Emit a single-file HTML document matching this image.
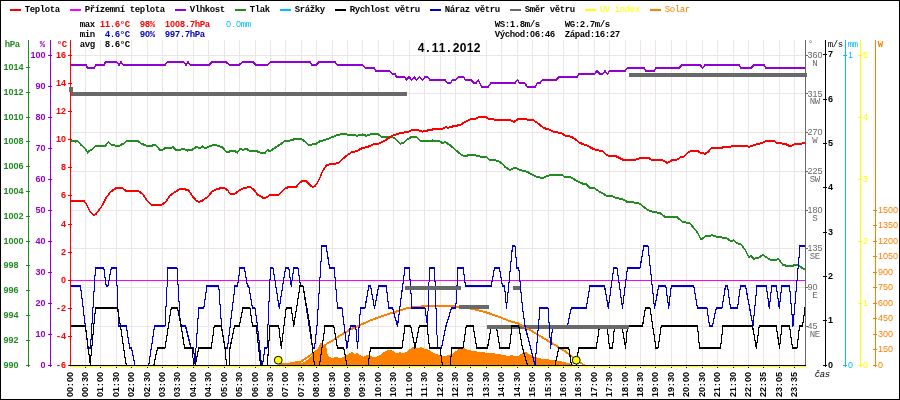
<!DOCTYPE html>
<html lang="cs"><head><meta charset="utf-8"><title>Meteostanice 4.11.2012</title>
<style>
html,body{margin:0;padding:0;background:#fff;}
body{width:900px;height:400px;overflow:hidden;}
svg{display:block;will-change:transform;transform:translateZ(0);}
text{font-size:9px;white-space:pre;}
.m{font-family:"Liberation Mono",monospace;}
.s{font-family:"Liberation Sans",sans-serif;}
.b{font-weight:bold;}
.n{font-weight:normal;}
.t{font-weight:bold;font-size:12px;}
</style></head><body>
<svg width="900" height="400" viewBox="0 0 900 400">
<rect x="0" y="0" width="900" height="400" fill="#ffffff"/>
<g shape-rendering="crispEdges">
<rect x="85" y="40" width="1" height="325" fill="#ebe5e5"/>
<rect x="100" y="40" width="1" height="325" fill="#ebe5e5"/>
<rect x="116" y="40" width="1" height="325" fill="#ebe5e5"/>
<rect x="131" y="40" width="1" height="325" fill="#ebe5e5"/>
<rect x="147" y="40" width="1" height="325" fill="#ebe5e5"/>
<rect x="162" y="40" width="1" height="325" fill="#ebe5e5"/>
<rect x="177" y="40" width="1" height="325" fill="#ebe5e5"/>
<rect x="193" y="40" width="1" height="325" fill="#ebe5e5"/>
<rect x="208" y="40" width="1" height="325" fill="#ebe5e5"/>
<rect x="224" y="40" width="1" height="325" fill="#ebe5e5"/>
<rect x="239" y="40" width="1" height="325" fill="#ebe5e5"/>
<rect x="255" y="40" width="1" height="325" fill="#ebe5e5"/>
<rect x="270" y="40" width="1" height="325" fill="#ebe5e5"/>
<rect x="285" y="40" width="1" height="325" fill="#ebe5e5"/>
<rect x="301" y="40" width="1" height="325" fill="#ebe5e5"/>
<rect x="316" y="40" width="1" height="325" fill="#ebe5e5"/>
<rect x="332" y="40" width="1" height="325" fill="#ebe5e5"/>
<rect x="347" y="40" width="1" height="325" fill="#ebe5e5"/>
<rect x="362" y="40" width="1" height="325" fill="#ebe5e5"/>
<rect x="378" y="40" width="1" height="325" fill="#ebe5e5"/>
<rect x="393" y="40" width="1" height="325" fill="#ebe5e5"/>
<rect x="409" y="40" width="1" height="325" fill="#ebe5e5"/>
<rect x="424" y="40" width="1" height="325" fill="#ebe5e5"/>
<rect x="440" y="40" width="1" height="325" fill="#ebe5e5"/>
<rect x="455" y="40" width="1" height="325" fill="#ebe5e5"/>
<rect x="470" y="40" width="1" height="325" fill="#ebe5e5"/>
<rect x="486" y="40" width="1" height="325" fill="#ebe5e5"/>
<rect x="501" y="40" width="1" height="325" fill="#ebe5e5"/>
<rect x="517" y="40" width="1" height="325" fill="#ebe5e5"/>
<rect x="532" y="40" width="1" height="325" fill="#ebe5e5"/>
<rect x="548" y="40" width="1" height="325" fill="#ebe5e5"/>
<rect x="563" y="40" width="1" height="325" fill="#ebe5e5"/>
<rect x="578" y="40" width="1" height="325" fill="#ebe5e5"/>
<rect x="594" y="40" width="1" height="325" fill="#ebe5e5"/>
<rect x="609" y="40" width="1" height="325" fill="#ebe5e5"/>
<rect x="625" y="40" width="1" height="325" fill="#ebe5e5"/>
<rect x="640" y="40" width="1" height="325" fill="#ebe5e5"/>
<rect x="655" y="40" width="1" height="325" fill="#ebe5e5"/>
<rect x="671" y="40" width="1" height="325" fill="#ebe5e5"/>
<rect x="686" y="40" width="1" height="325" fill="#ebe5e5"/>
<rect x="702" y="40" width="1" height="325" fill="#ebe5e5"/>
<rect x="717" y="40" width="1" height="325" fill="#ebe5e5"/>
<rect x="733" y="40" width="1" height="325" fill="#ebe5e5"/>
<rect x="748" y="40" width="1" height="325" fill="#ebe5e5"/>
<rect x="763" y="40" width="1" height="325" fill="#ebe5e5"/>
<rect x="779" y="40" width="1" height="325" fill="#ebe5e5"/>
<rect x="794" y="40" width="1" height="325" fill="#ebe5e5"/>
<rect x="70" y="326" width="735" height="1" fill="#ebe5e5"/>
<rect x="70" y="287" width="735" height="1" fill="#ebe5e5"/>
<rect x="70" y="248" width="735" height="1" fill="#ebe5e5"/>
<rect x="70" y="210" width="735" height="1" fill="#ebe5e5"/>
<rect x="70" y="171" width="735" height="1" fill="#ebe5e5"/>
<rect x="70" y="132" width="735" height="1" fill="#ebe5e5"/>
<rect x="70" y="93" width="735" height="1" fill="#ebe5e5"/>
<rect x="70" y="55" width="735" height="1" fill="#ebe5e5"/>
</g>
<polygon points="280.75,365.00 280.75,364.82 287.50,364.04 293.12,362.12 295.37,361.45 297.62,362.12 299.87,362.46 302.12,363.25 304.37,361.90 307.75,359.42 311.12,356.72 314.50,353.35 317.87,348.06 320.12,343.22 321.25,342.10 322.37,344.69 324.62,345.81 326.31,346.94 327.44,353.69 329.12,357.06 332.50,357.85 335.31,357.06 338.12,357.62 341.50,357.85 343.75,356.50 345.44,355.94 347.12,354.81 350.50,352.56 351.62,351.77 353.31,353.12 355.00,353.69 357.11,353.11 359.78,354.89 363.33,356.67 366.89,355.24 369.56,354.89 372.22,356.67 376.67,356.67 380.22,354.89 383.78,352.22 387.33,350.44 390.89,349.56 393.56,351.33 396.22,353.11 399.78,352.22 403.33,353.11 406.89,351.33 410.44,348.67 413.11,346.89 415.78,348.67 419.33,347.78 421.11,346.89 424.67,348.67 428.22,349.56 435.00,353.75 445.00,356.25 452.50,353.75 457.50,350.00 463.00,347.00 467.50,350.00 475.00,351.25 485.00,352.50 497.50,353.75 510.00,356.25 510.00,355.00 517.50,356.25 521.25,353.75 525.00,351.25 528.75,353.75 535.00,357.00 542.50,358.75 552.50,360.00 562.50,361.50 570.00,363.50 575.00,365.00 575.00,365.00" fill="#ff7f00" shape-rendering="crispEdges"/>
<polyline points="70.50,64.50 86.00,64.50 87.50,67.50 94.00,67.50 96.00,64.50 104.00,64.50 105.50,61.50 116.50,61.50 119.00,64.50 121.00,61.50 123.50,64.50 165.00,64.50 167.50,61.50 183.50,61.50 186.00,64.50 188.00,61.50 190.50,64.50 209.00,64.50 212.00,61.50 226.00,61.50 229.50,64.50 239.00,64.50 242.50,61.50 253.00,61.50 256.00,64.50 267.50,64.50 270.50,61.50 310.00,61.50 312.00,64.50 316.00,64.50 319.00,61.50 335.00,61.50 337.50,64.50 362.50,64.50 365.50,67.50 374.00,67.50 376.00,70.50 389.50,70.50 392.50,73.50 395.00,73.50 396.50,76.50 404.50,76.50 406.30,79.50 409.00,76.50 411.60,79.50 414.30,76.50 416.60,79.50 419.50,76.50 422.50,79.50 425.00,76.50 427.50,76.50 430.00,79.50 445.00,79.50 447.50,82.50 450.50,82.50 452.50,79.50 455.70,79.50 458.60,76.50 463.80,76.50 465.50,79.50 471.00,79.50 474.00,82.50 476.00,82.50 478.20,79.50 481.80,86.50 488.20,86.50 491.00,82.50 515.00,82.50 517.50,79.50 519.50,82.50 524.50,82.50 527.50,86.50 535.00,86.50 537.50,82.50 540.00,82.50 542.50,79.50 556.00,79.50 559.00,76.50 577.00,76.50 579.00,73.50 594.50,73.50 597.00,70.50 600.00,73.50 602.50,73.50 605.00,70.50 607.50,73.50 609.50,70.50 625.00,70.50 627.50,67.50 644.00,67.50 646.00,70.50 654.00,70.50 656.00,67.50 679.00,67.50 682.00,64.50 700.00,64.50 702.70,67.50 705.00,64.50 739.00,64.50 741.00,67.50 751.00,67.50 754.00,64.50 764.00,64.50 766.00,67.50 805.00,67.50" fill="none" stroke="#9400d3" stroke-width="1" stroke-linejoin="miter" shape-rendering="crispEdges"/>
<polyline points="70.50,65.50 86.00,65.50 87.50,68.50 94.00,68.50 96.00,65.50 104.00,65.50 105.50,62.50 116.50,62.50 119.00,65.50 121.00,62.50 123.50,65.50 165.00,65.50 167.50,62.50 183.50,62.50 186.00,65.50 188.00,62.50 190.50,65.50 209.00,65.50 212.00,62.50 226.00,62.50 229.50,65.50 239.00,65.50 242.50,62.50 253.00,62.50 256.00,65.50 267.50,65.50 270.50,62.50 310.00,62.50 312.00,65.50 316.00,65.50 319.00,62.50 335.00,62.50 337.50,65.50 362.50,65.50 365.50,68.50 374.00,68.50 376.00,71.50 389.50,71.50 392.50,74.50 395.00,74.50 396.50,77.50 404.50,77.50 406.30,80.50 409.00,77.50 411.60,80.50 414.30,77.50 416.60,80.50 419.50,77.50 422.50,80.50 425.00,77.50 427.50,77.50 430.00,80.50 445.00,80.50 447.50,83.50 450.50,83.50 452.50,80.50 455.70,80.50 458.60,77.50 463.80,77.50 465.50,80.50 471.00,80.50 474.00,83.50 476.00,83.50 478.20,80.50 481.80,87.50 488.20,87.50 491.00,83.50 515.00,83.50 517.50,80.50 519.50,83.50 524.50,83.50 527.50,87.50 535.00,87.50 537.50,83.50 540.00,83.50 542.50,80.50 556.00,80.50 559.00,77.50 577.00,77.50 579.00,74.50 594.50,74.50 597.00,71.50 600.00,74.50 602.50,74.50 605.00,71.50 607.50,74.50 609.50,71.50 625.00,71.50 627.50,68.50 644.00,68.50 646.00,71.50 654.00,71.50 656.00,68.50 679.00,68.50 682.00,65.50 700.00,65.50 702.70,68.50 705.00,65.50 739.00,65.50 741.00,68.50 751.00,68.50 754.00,65.50 764.00,65.50 766.00,68.50 805.00,68.50" fill="none" stroke="#9400d3" stroke-width="1" stroke-linejoin="miter" shape-rendering="crispEdges"/>
<polyline points="70.62,140.19 73.44,140.19 75.12,141.31 77.15,139.85 79.06,141.87 80.75,144.12 83.00,145.81 85.25,148.06 87.50,152.00 89.19,150.31 91.44,149.19 93.12,148.06 95.37,145.25 105.50,145.25 108.31,141.31 111.12,144.12 114.50,144.46 115.62,145.25 119.56,145.25 121.25,144.12 123.50,143.22 126.31,140.41 137.56,140.41 139.81,141.87 142.06,143.56 144.87,144.46 146.56,145.25 152.19,145.25 153.87,144.12 156.12,145.25 157.81,146.94 159.50,149.19 162.87,149.19 165.01,147.72 171.25,147.50 173.00,146.50 176.25,150.00 180.00,149.50 182.50,148.25 187.50,150.00 192.50,149.00 196.25,146.50 200.00,147.50 202.50,146.00 205.00,148.00 208.75,146.00 213.75,144.50 218.75,145.25 222.50,147.00 227.00,152.00 231.25,150.25 235.00,150.75 237.50,152.00 240.00,148.25 243.00,149.50 246.25,148.25 250.00,150.75 255.00,150.00 260.00,152.00 265.00,152.50 267.50,149.50 270.00,150.75 273.75,148.25 277.50,145.75 281.25,143.25 285.00,140.25 285.00,140.25 290.00,140.00 296.25,138.25 301.25,138.75 305.00,140.75 309.25,145.00 312.50,143.75 316.25,143.25 320.00,140.75 325.00,139.50 331.25,137.00 337.50,134.50 343.75,133.25 348.75,134.50 353.75,134.50 357.50,135.25 362.50,134.00 366.25,135.25 371.25,133.75 377.50,133.25 381.25,136.25 392.50,136.50 396.25,139.00 400.50,143.25 403.75,142.00 407.50,138.75 411.25,136.50 416.25,136.50 420.00,140.00 428.75,140.75 432.50,140.00 438.75,140.25 442.50,142.75 445.00,141.50 450.00,144.50 455.00,149.00 460.00,153.25 463.00,155.00 467.50,155.00 471.25,154.00 476.25,155.00 481.25,156.25 486.25,156.50 488.75,159.00 497.50,160.25 502.50,163.25 505.00,166.50 510.00,169.50 515.00,167.00 520.00,169.50 527.50,171.50 535.00,175.75 542.50,177.50 548.75,175.00 556.25,174.00 561.25,174.00 565.00,176.50 571.25,177.00 577.50,180.75 581.25,182.75 586.25,183.75 590.00,187.75 593.75,187.00 595.00,188.25 600.00,191.50 606.25,195.00 612.50,195.75 616.25,197.50 622.50,198.75 627.50,201.50 633.75,202.00 640.00,203.25 647.50,209.50 653.75,211.50 660.00,212.50 665.00,216.50 677.50,217.00 682.50,221.50 689.50,222.50 693.75,227.50 697.50,232.00 701.25,239.00 706.25,235.00 710.00,235.75 712.00,234.50 717.50,236.50 726.25,237.50 731.25,240.75 733.75,239.50 736.25,242.50 741.25,244.00 745.00,249.00 748.75,256.50 751.25,255.75 753.75,258.25 758.75,257.00 763.00,254.50 767.50,257.50 771.25,260.00 778.75,258.75 782.50,264.00 786.25,265.25 791.25,265.75 795.00,264.50 798.75,265.00 802.50,267.75 805.50,269.50" fill="none" stroke="#228b22" stroke-width="1" stroke-linejoin="miter" shape-rendering="crispEdges"/>
<polyline points="70.62,141.19 73.44,141.19 75.12,142.31 77.15,140.85 79.06,142.87 80.75,145.12 83.00,146.81 85.25,149.06 87.50,153.00 89.19,151.31 91.44,150.19 93.12,149.06 95.37,146.25 105.50,146.25 108.31,142.31 111.12,145.12 114.50,145.46 115.62,146.25 119.56,146.25 121.25,145.12 123.50,144.22 126.31,141.41 137.56,141.41 139.81,142.87 142.06,144.56 144.87,145.46 146.56,146.25 152.19,146.25 153.87,145.12 156.12,146.25 157.81,147.94 159.50,150.19 162.87,150.19 165.01,148.72 171.25,148.50 173.00,147.50 176.25,151.00 180.00,150.50 182.50,149.25 187.50,151.00 192.50,150.00 196.25,147.50 200.00,148.50 202.50,147.00 205.00,149.00 208.75,147.00 213.75,145.50 218.75,146.25 222.50,148.00 227.00,153.00 231.25,151.25 235.00,151.75 237.50,153.00 240.00,149.25 243.00,150.50 246.25,149.25 250.00,151.75 255.00,151.00 260.00,153.00 265.00,153.50 267.50,150.50 270.00,151.75 273.75,149.25 277.50,146.75 281.25,144.25 285.00,141.25 285.00,141.25 290.00,141.00 296.25,139.25 301.25,139.75 305.00,141.75 309.25,146.00 312.50,144.75 316.25,144.25 320.00,141.75 325.00,140.50 331.25,138.00 337.50,135.50 343.75,134.25 348.75,135.50 353.75,135.50 357.50,136.25 362.50,135.00 366.25,136.25 371.25,134.75 377.50,134.25 381.25,137.25 392.50,137.50 396.25,140.00 400.50,144.25 403.75,143.00 407.50,139.75 411.25,137.50 416.25,137.50 420.00,141.00 428.75,141.75 432.50,141.00 438.75,141.25 442.50,143.75 445.00,142.50 450.00,145.50 455.00,150.00 460.00,154.25 463.00,156.00 467.50,156.00 471.25,155.00 476.25,156.00 481.25,157.25 486.25,157.50 488.75,160.00 497.50,161.25 502.50,164.25 505.00,167.50 510.00,170.50 515.00,168.00 520.00,170.50 527.50,172.50 535.00,176.75 542.50,178.50 548.75,176.00 556.25,175.00 561.25,175.00 565.00,177.50 571.25,178.00 577.50,181.75 581.25,183.75 586.25,184.75 590.00,188.75 593.75,188.00 595.00,189.25 600.00,192.50 606.25,196.00 612.50,196.75 616.25,198.50 622.50,199.75 627.50,202.50 633.75,203.00 640.00,204.25 647.50,210.50 653.75,212.50 660.00,213.50 665.00,217.50 677.50,218.00 682.50,222.50 689.50,223.50 693.75,228.50 697.50,233.00 701.25,240.00 706.25,236.00 710.00,236.75 712.00,235.50 717.50,237.50 726.25,238.50 731.25,241.75 733.75,240.50 736.25,243.50 741.25,245.00 745.00,250.00 748.75,257.50 751.25,256.75 753.75,259.25 758.75,258.00 763.00,255.50 767.50,258.50 771.25,261.00 778.75,259.75 782.50,265.00 786.25,266.25 791.25,266.75 795.00,265.50 798.75,266.00 802.50,268.75 805.50,270.50" fill="none" stroke="#228b22" stroke-width="1" stroke-linejoin="miter" shape-rendering="crispEdges"/>
<polyline points="70.50,200.25 83.75,200.25 86.25,203.25 90.00,210.75 93.75,215.00 96.25,213.25 100.00,208.25 102.50,204.50 106.25,197.00 111.25,190.75 116.25,187.50 122.50,187.50 126.25,190.75 138.75,190.75 142.50,193.25 147.50,200.75 151.25,204.50 162.50,204.00 166.25,200.75 170.00,195.00 175.00,191.50 180.00,188.50 183.75,188.00 186.25,189.50 188.75,190.00 192.50,195.75 196.25,200.00 198.75,201.50 202.50,200.00 207.50,196.50 212.50,190.75 217.50,188.25 223.75,187.50 227.50,189.50 230.00,193.25 235.00,193.25 240.00,189.50 243.75,187.50 250.00,186.50 253.75,189.00 257.50,194.00 262.50,197.00 266.25,197.00 270.00,194.50 278.75,194.00 282.50,190.75 286.25,187.00 287.50,187.00 296.25,186.25 298.75,183.25 302.50,180.25 306.25,180.75 310.00,184.50 312.50,186.50 315.00,185.75 318.75,180.00 322.50,170.75 326.25,165.00 330.00,163.50 335.00,163.25 338.75,162.00 343.75,157.50 347.50,154.50 351.25,152.00 356.25,150.75 362.50,147.50 367.50,146.50 373.75,143.75 378.75,143.25 383.75,140.75 388.75,137.50 392.50,135.25 397.50,133.25 403.75,132.00 408.75,131.25 412.50,129.50 417.50,129.50 422.50,131.25 426.25,130.25 432.50,129.00 442.50,128.25 446.25,126.50 447.50,127.75 451.25,126.25 460.00,124.50 465.00,121.50 470.00,119.00 475.00,118.75 478.75,116.50 485.00,116.25 488.75,118.25 496.25,119.25 505.00,119.25 510.00,119.50 513.75,121.50 518.75,118.25 525.00,118.25 527.50,119.25 532.50,119.25 537.50,122.50 543.75,127.50 548.75,129.00 553.75,131.25 561.25,132.50 565.00,135.00 571.25,136.25 576.25,139.50 578.75,142.00 587.50,145.25 593.75,148.75 602.50,150.75 607.50,155.00 615.00,155.25 622.50,159.00 636.25,159.00 641.25,157.00 647.50,157.00 651.25,159.00 661.25,159.00 667.50,162.50 672.50,159.50 677.50,159.00 680.00,157.00 683.75,156.50 687.50,152.50 691.25,150.25 697.50,150.25 700.00,152.00 705.00,153.25 708.00,151.50 712.00,147.00 722.50,147.00 725.00,146.00 731.25,146.00 733.75,145.00 746.25,145.00 748.75,146.25 752.50,145.25 756.25,143.75 762.50,142.50 766.25,140.25 773.75,140.25 777.00,142.50 785.00,143.25 790.00,145.75 795.00,143.75 800.00,143.25 805.50,142.50" fill="none" stroke="#ff0000" stroke-width="1" stroke-linejoin="miter" shape-rendering="crispEdges"/>
<polyline points="70.50,201.25 83.75,201.25 86.25,204.25 90.00,211.75 93.75,216.00 96.25,214.25 100.00,209.25 102.50,205.50 106.25,198.00 111.25,191.75 116.25,188.50 122.50,188.50 126.25,191.75 138.75,191.75 142.50,194.25 147.50,201.75 151.25,205.50 162.50,205.00 166.25,201.75 170.00,196.00 175.00,192.50 180.00,189.50 183.75,189.00 186.25,190.50 188.75,191.00 192.50,196.75 196.25,201.00 198.75,202.50 202.50,201.00 207.50,197.50 212.50,191.75 217.50,189.25 223.75,188.50 227.50,190.50 230.00,194.25 235.00,194.25 240.00,190.50 243.75,188.50 250.00,187.50 253.75,190.00 257.50,195.00 262.50,198.00 266.25,198.00 270.00,195.50 278.75,195.00 282.50,191.75 286.25,188.00 287.50,188.00 296.25,187.25 298.75,184.25 302.50,181.25 306.25,181.75 310.00,185.50 312.50,187.50 315.00,186.75 318.75,181.00 322.50,171.75 326.25,166.00 330.00,164.50 335.00,164.25 338.75,163.00 343.75,158.50 347.50,155.50 351.25,153.00 356.25,151.75 362.50,148.50 367.50,147.50 373.75,144.75 378.75,144.25 383.75,141.75 388.75,138.50 392.50,136.25 397.50,134.25 403.75,133.00 408.75,132.25 412.50,130.50 417.50,130.50 422.50,132.25 426.25,131.25 432.50,130.00 442.50,129.25 446.25,127.50 447.50,128.75 451.25,127.25 460.00,125.50 465.00,122.50 470.00,120.00 475.00,119.75 478.75,117.50 485.00,117.25 488.75,119.25 496.25,120.25 505.00,120.25 510.00,120.50 513.75,122.50 518.75,119.25 525.00,119.25 527.50,120.25 532.50,120.25 537.50,123.50 543.75,128.50 548.75,130.00 553.75,132.25 561.25,133.50 565.00,136.00 571.25,137.25 576.25,140.50 578.75,143.00 587.50,146.25 593.75,149.75 602.50,151.75 607.50,156.00 615.00,156.25 622.50,160.00 636.25,160.00 641.25,158.00 647.50,158.00 651.25,160.00 661.25,160.00 667.50,163.50 672.50,160.50 677.50,160.00 680.00,158.00 683.75,157.50 687.50,153.50 691.25,151.25 697.50,151.25 700.00,153.00 705.00,154.25 708.00,152.50 712.00,148.00 722.50,148.00 725.00,147.00 731.25,147.00 733.75,146.00 746.25,146.00 748.75,147.25 752.50,146.25 756.25,144.75 762.50,143.50 766.25,141.25 773.75,141.25 777.00,143.50 785.00,144.25 790.00,146.75 795.00,144.75 800.00,144.25 805.50,143.50" fill="none" stroke="#ff0000" stroke-width="1" stroke-linejoin="miter" shape-rendering="crispEdges"/>
<rect x="70" y="280" width="735" height="1" fill="#ff00ff"/>
<g shape-rendering="crispEdges">
<rect x="506" y="325" width="46" height="4" fill="#696969"/>
<rect x="513" y="286" width="8" height="4" fill="#696969"/>
</g>
<polyline points="279.00,364.00 287.00,363.50 293.00,362.50 301.00,361.10 310.00,354.90 315.60,350.90 321.50,346.70 328.00,342.50 332.50,340.20 338.00,336.30 343.70,332.90 349.40,329.50 355.00,326.75 357.50,325.75 370.00,320.00 385.00,314.50 395.00,311.50 405.00,308.25 415.00,306.50 427.50,305.50 445.00,305.50 455.00,306.00 465.00,307.00 475.00,309.00 485.00,311.50 497.50,315.75 510.00,320.75 517.50,322.50 530.00,329.50 542.50,337.00 555.00,344.50 565.00,350.75 572.50,356.50 580.00,362.00 585.00,365.00" fill="none" stroke="#ff7f00" stroke-width="1" stroke-linejoin="miter" shape-rendering="crispEdges"/>
<polyline points="279.00,365.00 287.00,364.50 293.00,363.50 301.00,362.10 310.00,355.90 315.60,351.90 321.50,347.70 328.00,343.50 332.50,341.20 338.00,337.30 343.70,333.90 349.40,330.50 355.00,327.75 357.50,326.75 370.00,321.00 385.00,315.50 395.00,312.50 405.00,309.25 415.00,307.50 427.50,306.50 445.00,306.50 455.00,307.00 465.00,308.00 475.00,310.00 485.00,312.50 497.50,316.75 510.00,321.75 517.50,323.50 530.00,330.50 542.50,338.00 555.00,345.50 565.00,351.75 572.50,357.50 580.00,363.00 585.00,366.00" fill="none" stroke="#ff7f00" stroke-width="1" stroke-linejoin="miter" shape-rendering="crispEdges"/>
<polyline points="70.50,285.50 80.50,285.50 88.00,347.50 90.50,347.50 95.50,267.50 103.75,267.50 106.25,285.50 108.00,285.50 111.25,267.50 116.25,267.50 118.75,325.50 126.25,325.50 129.70,347.50 131.50,347.50 135.00,365.00 148.75,365.00 154.50,325.50 165.00,325.50 168.00,267.50 177.00,267.50 180.50,325.50 185.50,325.50 191.00,347.50 193.50,347.50 195.00,362.51 198.75,307.50 203.75,307.50 207.00,285.50 218.75,285.50 221.50,325.50 225.00,347.50 227.50,347.50 235.00,285.50 237.50,285.50 240.00,267.50 244.50,267.50 247.50,285.50 248.75,285.50 252.50,307.50 255.00,307.50 257.50,325.50 261.50,365.00 262.50,365.00 265.00,347.50 267.00,347.50 270.50,267.50 273.00,267.50 279.25,307.50 285.50,267.50 288.75,267.50 291.25,285.50 293.75,267.50 298.00,267.50 300.50,285.50 303.00,285.50 312.50,347.50 314.50,347.50 317.00,325.50 322.00,245.50 326.25,245.50 329.50,267.50 334.25,267.50 337.50,307.50 342.00,307.50 347.00,347.50 350.50,325.50 355.75,325.50 357.50,347.50 360.50,307.50 365.00,307.50 368.75,285.50 370.50,285.50 374.50,307.50 378.75,285.50 386.25,285.50 388.75,307.50 392.50,307.50 397.50,325.50 405.00,267.50 409.25,267.50 412.00,307.50 425.00,307.50 427.50,325.50 429.50,267.50 434.50,267.50 437.50,347.50 441.50,347.50 446.00,325.50 451.50,307.50 455.75,307.50 458.00,267.50 463.25,267.50 465.50,285.50 491.25,285.50 494.50,267.50 499.50,267.50 502.50,285.50 504.50,285.50 506.50,307.50 512.50,245.50 515.00,245.50 517.00,267.50 518.75,267.50 522.50,307.50 525.00,325.50 535.00,365.00 540.00,307.50 548.00,307.50 550.75,347.50 552.50,325.50 567.50,325.50 571.25,307.50 586.25,307.50 590.00,285.50 604.50,285.50 608.25,307.50 613.75,267.50 617.00,267.50 622.50,307.50 627.50,267.50 640.00,267.50 643.75,245.50 648.00,245.50 654.50,307.50 658.75,285.50 665.75,285.50 668.75,307.50 671.25,285.50 693.75,285.50 697.50,307.50 707.00,307.50 709.50,325.50 712.50,325.50 716.25,307.50 722.00,307.50 725.50,285.50 727.50,285.50 730.50,307.50 737.50,307.50 740.50,285.50 745.50,285.50 753.00,325.50 757.00,285.50 766.25,285.50 769.25,307.50 771.75,285.50 776.25,285.50 779.25,307.50 781.75,285.50 789.50,285.50 793.00,325.50 800.00,245.50 805.00,245.50" fill="none" stroke="#0000cd" stroke-width="1" stroke-linejoin="miter" shape-rendering="crispEdges"/>
<polyline points="70.50,286.50 80.50,286.50 88.00,348.50 90.50,348.50 95.50,268.50 103.75,268.50 106.25,286.50 108.00,286.50 111.25,268.50 116.25,268.50 118.75,326.50 126.25,326.50 129.70,348.50 131.50,348.50 135.00,366.00 148.75,366.00 154.50,326.50 165.00,326.50 168.00,268.50 177.00,268.50 180.50,326.50 185.50,326.50 191.00,348.50 193.50,348.50 195.00,363.51 198.75,308.50 203.75,308.50 207.00,286.50 218.75,286.50 221.50,326.50 225.00,348.50 227.50,348.50 235.00,286.50 237.50,286.50 240.00,268.50 244.50,268.50 247.50,286.50 248.75,286.50 252.50,308.50 255.00,308.50 257.50,326.50 261.50,366.00 262.50,366.00 265.00,348.50 267.00,348.50 270.50,268.50 273.00,268.50 279.25,308.50 285.50,268.50 288.75,268.50 291.25,286.50 293.75,268.50 298.00,268.50 300.50,286.50 303.00,286.50 312.50,348.50 314.50,348.50 317.00,326.50 322.00,246.50 326.25,246.50 329.50,268.50 334.25,268.50 337.50,308.50 342.00,308.50 347.00,348.50 350.50,326.50 355.75,326.50 357.50,348.50 360.50,308.50 365.00,308.50 368.75,286.50 370.50,286.50 374.50,308.50 378.75,286.50 386.25,286.50 388.75,308.50 392.50,308.50 397.50,326.50 405.00,268.50 409.25,268.50 412.00,308.50 425.00,308.50 427.50,326.50 429.50,268.50 434.50,268.50 437.50,348.50 441.50,348.50 446.00,326.50 451.50,308.50 455.75,308.50 458.00,268.50 463.25,268.50 465.50,286.50 491.25,286.50 494.50,268.50 499.50,268.50 502.50,286.50 504.50,286.50 506.50,308.50 512.50,246.50 515.00,246.50 517.00,268.50 518.75,268.50 522.50,308.50 525.00,326.50 535.00,366.00 540.00,308.50 548.00,308.50 550.75,348.50 552.50,326.50 567.50,326.50 571.25,308.50 586.25,308.50 590.00,286.50 604.50,286.50 608.25,308.50 613.75,268.50 617.00,268.50 622.50,308.50 627.50,268.50 640.00,268.50 643.75,246.50 648.00,246.50 654.50,308.50 658.75,286.50 665.75,286.50 668.75,308.50 671.25,286.50 693.75,286.50 697.50,308.50 707.00,308.50 709.50,326.50 712.50,326.50 716.25,308.50 722.00,308.50 725.50,286.50 727.50,286.50 730.50,308.50 737.50,308.50 740.50,286.50 745.50,286.50 753.00,326.50 757.00,286.50 766.25,286.50 769.25,308.50 771.75,286.50 776.25,286.50 779.25,308.50 781.75,286.50 789.50,286.50 793.00,326.50 800.00,246.50 805.00,246.50" fill="none" stroke="#0000cd" stroke-width="1" stroke-linejoin="miter" shape-rendering="crispEdges"/>
<polyline points="70.50,325.50 85.50,325.50 90.25,363.51 95.50,307.50 117.50,307.50 120.50,325.50 126.25,365.00 153.75,365.00 157.50,347.50 165.00,347.50 171.25,307.50 177.50,307.50 181.25,325.50 184.50,347.50 192.50,347.50 193.40,365.00 195.30,365.00 198.75,347.50 211.25,347.50 214.25,325.50 221.25,325.50 225.00,347.50 226.60,365.00 229.00,365.00 230.00,347.50 234.50,325.50 239.25,325.50 243.00,307.50 250.00,307.50 252.50,325.50 256.25,325.50 260.50,365.00 267.30,365.00 270.00,325.50 278.75,325.50 281.25,347.50 286.25,307.50 291.25,307.50 293.75,325.50 300.00,285.50 303.00,285.50 310.00,325.50 314.50,365.00 319.50,365.00 325.00,325.50 333.75,325.50 337.50,347.50 343.75,347.50 347.00,365.00 368.00,365.00 370.50,347.50 402.00,347.50 405.00,325.50 410.75,325.50 415.00,347.50 419.25,325.50 427.00,325.50 429.50,347.50 440.00,347.50 442.50,365.00 450.00,365.00 452.00,347.50 463.00,347.50 466.25,325.50 473.00,325.50 476.75,347.50 487.50,347.50 491.25,325.50 496.25,325.50 500.00,347.50 509.50,347.50 512.00,325.50 518.75,325.50 522.50,347.50 527.50,365.00 555.00,365.00 558.75,347.50 568.75,347.50 571.50,365.00 576.00,365.00 578.75,347.50 596.25,347.50 599.50,325.50 607.00,325.50 609.50,347.50 612.50,347.50 614.50,325.50 622.00,325.50 625.50,347.50 627.50,325.50 642.50,325.50 645.50,307.50 650.00,307.50 656.00,347.50 658.00,347.50 661.25,325.50 697.50,325.50 699.50,347.50 720.50,347.50 723.00,325.50 752.50,325.50 756.25,347.50 759.25,325.50 776.25,325.50 779.50,347.50 782.00,325.50 789.50,325.50 792.50,347.50 797.00,347.50 799.50,325.50 802.50,325.50 805.00,307.50" fill="none" stroke="#000000" stroke-width="1" stroke-linejoin="miter" shape-rendering="crispEdges"/>
<polyline points="70.50,326.50 85.50,326.50 90.25,364.51 95.50,308.50 117.50,308.50 120.50,326.50 126.25,366.00 153.75,366.00 157.50,348.50 165.00,348.50 171.25,308.50 177.50,308.50 181.25,326.50 184.50,348.50 192.50,348.50 193.40,366.00 195.30,366.00 198.75,348.50 211.25,348.50 214.25,326.50 221.25,326.50 225.00,348.50 226.60,366.00 229.00,366.00 230.00,348.50 234.50,326.50 239.25,326.50 243.00,308.50 250.00,308.50 252.50,326.50 256.25,326.50 260.50,366.00 267.30,366.00 270.00,326.50 278.75,326.50 281.25,348.50 286.25,308.50 291.25,308.50 293.75,326.50 300.00,286.50 303.00,286.50 310.00,326.50 314.50,366.00 319.50,366.00 325.00,326.50 333.75,326.50 337.50,348.50 343.75,348.50 347.00,366.00 368.00,366.00 370.50,348.50 402.00,348.50 405.00,326.50 410.75,326.50 415.00,348.50 419.25,326.50 427.00,326.50 429.50,348.50 440.00,348.50 442.50,366.00 450.00,366.00 452.00,348.50 463.00,348.50 466.25,326.50 473.00,326.50 476.75,348.50 487.50,348.50 491.25,326.50 496.25,326.50 500.00,348.50 509.50,348.50 512.00,326.50 518.75,326.50 522.50,348.50 527.50,366.00 555.00,366.00 558.75,348.50 568.75,348.50 571.50,366.00 576.00,366.00 578.75,348.50 596.25,348.50 599.50,326.50 607.00,326.50 609.50,348.50 612.50,348.50 614.50,326.50 622.00,326.50 625.50,348.50 627.50,326.50 642.50,326.50 645.50,308.50 650.00,308.50 656.00,348.50 658.00,348.50 661.25,326.50 697.50,326.50 699.50,348.50 720.50,348.50 723.00,326.50 752.50,326.50 756.25,348.50 759.25,326.50 776.25,326.50 779.50,348.50 782.00,326.50 789.50,326.50 792.50,348.50 797.00,348.50 799.50,326.50 802.50,326.50 805.00,308.50" fill="none" stroke="#000000" stroke-width="1" stroke-linejoin="miter" shape-rendering="crispEdges"/>
<g shape-rendering="crispEdges">
<rect x="71" y="92" width="336" height="4" fill="#696969"/>
<rect x="405" y="286" width="56" height="4" fill="#696969"/>
<rect x="459" y="305" width="30" height="4" fill="#696969"/>
<rect x="487" y="325" width="19" height="4" fill="#696969"/>
<rect x="552" y="325" width="77" height="4" fill="#696969"/>
<rect x="629" y="73" width="178" height="4" fill="#696969"/>
</g>
<circle cx="278.25" cy="360.2" r="3.9" fill="#ffff00" stroke="#000000" stroke-width="1"/>
<circle cx="576.25" cy="360.2" r="3.9" fill="#ffff00" stroke="#000000" stroke-width="1"/>
<g shape-rendering="crispEdges">
<rect x="28" y="40" width="1" height="327" fill="#228b22"/>
<rect x="50" y="40" width="1" height="327" fill="#9400d3"/>
<rect x="70" y="40" width="1" height="327" fill="#ff0000"/>
<rect x="805" y="40" width="1" height="327" fill="#696969"/>
<rect x="825" y="40" width="1" height="327" fill="#000000"/>
<rect x="845" y="40" width="1" height="327" fill="#00bfff"/>
<rect x="860" y="40" width="1" height="327" fill="#ffff00"/>
<rect x="875" y="40" width="1" height="327" fill="#ff7f00"/>
<rect x="26" y="365" width="4" height="1" fill="#228b22"/>
<rect x="26" y="340" width="4" height="1" fill="#228b22"/>
<rect x="26" y="315" width="4" height="1" fill="#228b22"/>
<rect x="26" y="290" width="4" height="1" fill="#228b22"/>
<rect x="26" y="265" width="4" height="1" fill="#228b22"/>
<rect x="26" y="241" width="4" height="1" fill="#228b22"/>
<rect x="26" y="216" width="4" height="1" fill="#228b22"/>
<rect x="26" y="191" width="4" height="1" fill="#228b22"/>
<rect x="26" y="166" width="4" height="1" fill="#228b22"/>
<rect x="26" y="141" width="4" height="1" fill="#228b22"/>
<rect x="26" y="117" width="4" height="1" fill="#228b22"/>
<rect x="26" y="92" width="4" height="1" fill="#228b22"/>
<rect x="26" y="67" width="4" height="1" fill="#228b22"/>
<rect x="48" y="365" width="4" height="1" fill="#9400d3"/>
<rect x="48" y="334" width="4" height="1" fill="#9400d3"/>
<rect x="48" y="303" width="4" height="1" fill="#9400d3"/>
<rect x="48" y="272" width="4" height="1" fill="#9400d3"/>
<rect x="48" y="241" width="4" height="1" fill="#9400d3"/>
<rect x="48" y="210" width="4" height="1" fill="#9400d3"/>
<rect x="48" y="179" width="4" height="1" fill="#9400d3"/>
<rect x="48" y="148" width="4" height="1" fill="#9400d3"/>
<rect x="48" y="117" width="4" height="1" fill="#9400d3"/>
<rect x="48" y="86" width="4" height="1" fill="#9400d3"/>
<rect x="48" y="55" width="4" height="1" fill="#9400d3"/>
<rect x="68" y="365" width="4" height="1" fill="#ff0000"/>
<rect x="68" y="336" width="4" height="1" fill="#ff0000"/>
<rect x="68" y="308" width="4" height="1" fill="#ff0000"/>
<rect x="68" y="280" width="4" height="1" fill="#ff0000"/>
<rect x="68" y="252" width="4" height="1" fill="#ff0000"/>
<rect x="68" y="224" width="4" height="1" fill="#ff0000"/>
<rect x="68" y="195" width="4" height="1" fill="#ff0000"/>
<rect x="68" y="167" width="4" height="1" fill="#ff0000"/>
<rect x="68" y="139" width="4" height="1" fill="#ff0000"/>
<rect x="68" y="111" width="4" height="1" fill="#ff0000"/>
<rect x="68" y="83" width="4" height="1" fill="#ff0000"/>
<rect x="68" y="55" width="4" height="1" fill="#ff0000"/>
<rect x="805" y="326" width="3" height="1" fill="#696969"/>
<rect x="805" y="287" width="3" height="1" fill="#696969"/>
<rect x="805" y="248" width="3" height="1" fill="#696969"/>
<rect x="805" y="210" width="3" height="1" fill="#696969"/>
<rect x="805" y="171" width="3" height="1" fill="#696969"/>
<rect x="805" y="132" width="3" height="1" fill="#696969"/>
<rect x="805" y="93" width="3" height="1" fill="#696969"/>
<rect x="805" y="55" width="3" height="1" fill="#696969"/>
<rect x="823" y="365" width="4" height="1" fill="#000000"/>
<rect x="823" y="320" width="4" height="1" fill="#000000"/>
<rect x="823" y="276" width="4" height="1" fill="#000000"/>
<rect x="823" y="232" width="4" height="1" fill="#000000"/>
<rect x="823" y="187" width="4" height="1" fill="#000000"/>
<rect x="823" y="143" width="4" height="1" fill="#000000"/>
<rect x="823" y="99" width="4" height="1" fill="#000000"/>
<rect x="823" y="54" width="4" height="1" fill="#000000"/>
<rect x="843" y="365" width="4" height="1" fill="#00bfff"/>
<rect x="843" y="55" width="4" height="1" fill="#00bfff"/>
<rect x="858" y="365" width="4" height="1" fill="#ffff00"/>
<rect x="858" y="303" width="4" height="1" fill="#ffff00"/>
<rect x="858" y="241" width="4" height="1" fill="#ffff00"/>
<rect x="858" y="179" width="4" height="1" fill="#ffff00"/>
<rect x="858" y="117" width="4" height="1" fill="#ffff00"/>
<rect x="858" y="55" width="4" height="1" fill="#ffff00"/>
<rect x="873" y="365" width="4" height="1" fill="#ff7f00"/>
<rect x="873" y="349" width="4" height="1" fill="#ff7f00"/>
<rect x="873" y="334" width="4" height="1" fill="#ff7f00"/>
<rect x="873" y="318" width="4" height="1" fill="#ff7f00"/>
<rect x="873" y="303" width="4" height="1" fill="#ff7f00"/>
<rect x="873" y="287" width="4" height="1" fill="#ff7f00"/>
<rect x="873" y="272" width="4" height="1" fill="#ff7f00"/>
<rect x="873" y="256" width="4" height="1" fill="#ff7f00"/>
<rect x="873" y="241" width="4" height="1" fill="#ff7f00"/>
<rect x="873" y="225" width="4" height="1" fill="#ff7f00"/>
<rect x="873" y="210" width="4" height="1" fill="#ff7f00"/>
</g>
<g shape-rendering="crispEdges">
<rect x="70" y="366" width="736" height="1" fill="#ffff00"/>
<rect x="69" y="365" width="737" height="1" fill="#000000"/>
<rect x="85" y="367" width="1" height="1" fill="#000000"/>
<rect x="100" y="367" width="1" height="1" fill="#000000"/>
<rect x="116" y="367" width="1" height="1" fill="#000000"/>
<rect x="131" y="367" width="1" height="1" fill="#000000"/>
<rect x="147" y="367" width="1" height="1" fill="#000000"/>
<rect x="162" y="367" width="1" height="1" fill="#000000"/>
<rect x="177" y="367" width="1" height="1" fill="#000000"/>
<rect x="193" y="367" width="1" height="1" fill="#000000"/>
<rect x="208" y="367" width="1" height="1" fill="#000000"/>
<rect x="224" y="367" width="1" height="1" fill="#000000"/>
<rect x="239" y="367" width="1" height="1" fill="#000000"/>
<rect x="255" y="367" width="1" height="1" fill="#000000"/>
<rect x="270" y="367" width="1" height="1" fill="#000000"/>
<rect x="285" y="367" width="1" height="1" fill="#000000"/>
<rect x="301" y="367" width="1" height="1" fill="#000000"/>
<rect x="316" y="367" width="1" height="1" fill="#000000"/>
<rect x="332" y="367" width="1" height="1" fill="#000000"/>
<rect x="347" y="367" width="1" height="1" fill="#000000"/>
<rect x="362" y="367" width="1" height="1" fill="#000000"/>
<rect x="378" y="367" width="1" height="1" fill="#000000"/>
<rect x="393" y="367" width="1" height="1" fill="#000000"/>
<rect x="409" y="367" width="1" height="1" fill="#000000"/>
<rect x="424" y="367" width="1" height="1" fill="#000000"/>
<rect x="440" y="367" width="1" height="1" fill="#000000"/>
<rect x="455" y="367" width="1" height="1" fill="#000000"/>
<rect x="470" y="367" width="1" height="1" fill="#000000"/>
<rect x="486" y="367" width="1" height="1" fill="#000000"/>
<rect x="501" y="367" width="1" height="1" fill="#000000"/>
<rect x="517" y="367" width="1" height="1" fill="#000000"/>
<rect x="532" y="367" width="1" height="1" fill="#000000"/>
<rect x="548" y="367" width="1" height="1" fill="#000000"/>
<rect x="563" y="367" width="1" height="1" fill="#000000"/>
<rect x="578" y="367" width="1" height="1" fill="#000000"/>
<rect x="594" y="367" width="1" height="1" fill="#000000"/>
<rect x="609" y="367" width="1" height="1" fill="#000000"/>
<rect x="625" y="367" width="1" height="1" fill="#000000"/>
<rect x="640" y="367" width="1" height="1" fill="#000000"/>
<rect x="655" y="367" width="1" height="1" fill="#000000"/>
<rect x="671" y="367" width="1" height="1" fill="#000000"/>
<rect x="686" y="367" width="1" height="1" fill="#000000"/>
<rect x="702" y="367" width="1" height="1" fill="#000000"/>
<rect x="717" y="367" width="1" height="1" fill="#000000"/>
<rect x="733" y="367" width="1" height="1" fill="#000000"/>
<rect x="748" y="367" width="1" height="1" fill="#000000"/>
<rect x="763" y="367" width="1" height="1" fill="#000000"/>
<rect x="779" y="367" width="1" height="1" fill="#000000"/>
<rect x="794" y="367" width="1" height="1" fill="#000000"/>
</g>
<text x="6 11 16" y="367.5" fill="#228b22" class="b s" text-anchor="middle">990</text>
<text x="6 11 16" y="342.5" fill="#228b22" class="b s" text-anchor="middle">992</text>
<text x="6 11 16" y="317.5" fill="#228b22" class="b s" text-anchor="middle">994</text>
<text x="6 11 16" y="292.5" fill="#228b22" class="b s" text-anchor="middle">996</text>
<text x="6 11 16" y="267.5" fill="#228b22" class="b s" text-anchor="middle">998</text>
<text x="6 11 16 21" y="243.5" fill="#228b22" class="b s" text-anchor="middle">1000</text>
<text x="6 11 16 21" y="218.5" fill="#228b22" class="b s" text-anchor="middle">1002</text>
<text x="6 11 16 21" y="193.5" fill="#228b22" class="b s" text-anchor="middle">1004</text>
<text x="6 11 16 21" y="168.5" fill="#228b22" class="b s" text-anchor="middle">1006</text>
<text x="6 11 16 21" y="143.5" fill="#228b22" class="b s" text-anchor="middle">1008</text>
<text x="6 11 16 21" y="119.5" fill="#228b22" class="b s" text-anchor="middle">1010</text>
<text x="6 11 16 21" y="94.5" fill="#228b22" class="b s" text-anchor="middle">1012</text>
<text x="6 11 16 21" y="69.5" fill="#228b22" class="b s" text-anchor="middle">1014</text>
<text x="43" y="367.5" fill="#9400d3" class="b s" text-anchor="middle">0</text>
<text x="38 43" y="336.5" fill="#9400d3" class="b s" text-anchor="middle">10</text>
<text x="38 43" y="305.5" fill="#9400d3" class="b s" text-anchor="middle">20</text>
<text x="38 43" y="274.5" fill="#9400d3" class="b s" text-anchor="middle">30</text>
<text x="38 43" y="243.5" fill="#9400d3" class="b s" text-anchor="middle">40</text>
<text x="38 43" y="212.5" fill="#9400d3" class="b s" text-anchor="middle">50</text>
<text x="38 43" y="181.5" fill="#9400d3" class="b s" text-anchor="middle">60</text>
<text x="38 43" y="150.5" fill="#9400d3" class="b s" text-anchor="middle">70</text>
<text x="38 43" y="119.5" fill="#9400d3" class="b s" text-anchor="middle">80</text>
<text x="38 43" y="88.5" fill="#9400d3" class="b s" text-anchor="middle">90</text>
<text x="33 38 43" y="57.5" fill="#9400d3" class="b s" text-anchor="middle">100</text>
<text y="367.5" fill="#ff0000" class="b" text-anchor="middle"><tspan class="m" x="58.5">-</tspan><tspan class="s" x="63.5">6</tspan></text>
<text y="338.5" fill="#ff0000" class="b" text-anchor="middle"><tspan class="m" x="58.5">-</tspan><tspan class="s" x="63.5">4</tspan></text>
<text y="310.5" fill="#ff0000" class="b" text-anchor="middle"><tspan class="m" x="58.5">-</tspan><tspan class="s" x="63.5">2</tspan></text>
<text x="63.5" y="282.5" fill="#ff0000" class="b s" text-anchor="middle">0</text>
<text x="63.5" y="254.5" fill="#ff0000" class="b s" text-anchor="middle">2</text>
<text x="63.5" y="226.5" fill="#ff0000" class="b s" text-anchor="middle">4</text>
<text x="63.5" y="197.5" fill="#ff0000" class="b s" text-anchor="middle">6</text>
<text x="63.5" y="169.5" fill="#ff0000" class="b s" text-anchor="middle">8</text>
<text x="58.5 63.5" y="141.5" fill="#ff0000" class="b s" text-anchor="middle">10</text>
<text x="58.5 63.5" y="113.5" fill="#ff0000" class="b s" text-anchor="middle">12</text>
<text x="58.5 63.5" y="85.5" fill="#ff0000" class="b s" text-anchor="middle">14</text>
<text x="58.5 63.5" y="57.5" fill="#ff0000" class="b s" text-anchor="middle">16</text>
<text x="810 815" y="328.9" fill="#696969" class="n s" text-anchor="middle">45</text>
<text x="812.5 817.5" y="336.9" fill="#696969" class="n m" text-anchor="middle">NE</text>
<text x="810 815" y="290.2" fill="#696969" class="n s" text-anchor="middle">90</text>
<text x="815" y="298.1" fill="#696969" class="n m" text-anchor="middle">E</text>
<text x="810 815 820" y="251.4" fill="#696969" class="n s" text-anchor="middle">135</text>
<text x="812.5 817.5" y="259.4" fill="#696969" class="n m" text-anchor="middle">SE</text>
<text x="810 815 820" y="212.7" fill="#696969" class="n s" text-anchor="middle">180</text>
<text x="815" y="220.6" fill="#696969" class="n m" text-anchor="middle">S</text>
<text x="810 815 820" y="173.9" fill="#696969" class="n s" text-anchor="middle">225</text>
<text x="812.5 817.5" y="181.8" fill="#696969" class="n m" text-anchor="middle">SW</text>
<text x="810 815 820" y="135.2" fill="#696969" class="n s" text-anchor="middle">270</text>
<text x="815" y="143.1" fill="#696969" class="n m" text-anchor="middle">W</text>
<text x="810 815 820" y="96.5" fill="#696969" class="n s" text-anchor="middle">315</text>
<text x="812.5 817.5" y="104.3" fill="#696969" class="n m" text-anchor="middle">NW</text>
<text x="810 815 820" y="57.7" fill="#696969" class="n s" text-anchor="middle">360</text>
<text x="815" y="65.6" fill="#696969" class="n m" text-anchor="middle">N</text>
<text x="830.5" y="368" fill="#000000" class="b s" text-anchor="middle">0</text>
<text x="830.5" y="323" fill="#000000" class="b s" text-anchor="middle">1</text>
<text x="830.5" y="279" fill="#000000" class="b s" text-anchor="middle">2</text>
<text x="830.5" y="235" fill="#000000" class="b s" text-anchor="middle">3</text>
<text x="830.5" y="190" fill="#000000" class="b s" text-anchor="middle">4</text>
<text x="830.5" y="146" fill="#000000" class="b s" text-anchor="middle">5</text>
<text x="830.5" y="102" fill="#000000" class="b s" text-anchor="middle">6</text>
<text x="830.5" y="57" fill="#000000" class="b s" text-anchor="middle">7</text>
<text x="850.5" y="367.5" fill="#00bfff" class="n s" text-anchor="middle">0</text>
<text x="850.5" y="57.5" fill="#00bfff" class="n s" text-anchor="middle">1</text>
<text x="865.5" y="367.5" fill="#ffff00" class="n s" text-anchor="middle">0</text>
<text x="865.5" y="305.5" fill="#ffff00" class="n s" text-anchor="middle">1</text>
<text x="865.5" y="243.5" fill="#ffff00" class="n s" text-anchor="middle">2</text>
<text x="865.5" y="181.5" fill="#ffff00" class="n s" text-anchor="middle">3</text>
<text x="865.5" y="119.5" fill="#ffff00" class="n s" text-anchor="middle">4</text>
<text x="865.5" y="57.5" fill="#ffff00" class="n s" text-anchor="middle">5</text>
<text x="880.5" y="367.5" fill="#ff7f00" class="n s" text-anchor="middle">0</text>
<text x="880.5 885.5 890.5" y="351.5" fill="#ff7f00" class="n s" text-anchor="middle">150</text>
<text x="880.5 885.5 890.5" y="336.5" fill="#ff7f00" class="n s" text-anchor="middle">300</text>
<text x="880.5 885.5 890.5" y="320.5" fill="#ff7f00" class="n s" text-anchor="middle">450</text>
<text x="880.5 885.5 890.5" y="305.5" fill="#ff7f00" class="n s" text-anchor="middle">600</text>
<text x="880.5 885.5 890.5" y="289.5" fill="#ff7f00" class="n s" text-anchor="middle">750</text>
<text x="880.5 885.5 890.5" y="274.5" fill="#ff7f00" class="n s" text-anchor="middle">900</text>
<text x="880.5 885.5 890.5 895.5" y="258.5" fill="#ff7f00" class="n s" text-anchor="middle">1050</text>
<text x="880.5 885.5 890.5 895.5" y="243.5" fill="#ff7f00" class="n s" text-anchor="middle">1200</text>
<text x="880.5 885.5 890.5 895.5" y="227.5" fill="#ff7f00" class="n s" text-anchor="middle">1350</text>
<text x="880.5 885.5 890.5 895.5" y="212.5" fill="#ff7f00" class="n s" text-anchor="middle">1500</text>
<text x="7.5 12.5 17.5" y="47" fill="#228b22" class="b m" text-anchor="middle">hPa</text>
<text x="42.5" y="47" fill="#9400d3" class="b m" text-anchor="middle">%</text>
<text x="59.5 64.5" y="47" fill="#ff0000" class="b m" text-anchor="middle">°C</text>
<text x="810.5" y="46" fill="#696969" class="n m" text-anchor="middle">°</text>
<text x="830.5 835.5 840.5" y="47" fill="#000000" class="n m" text-anchor="middle">m/s</text>
<text x="850.5 855.5" y="47" fill="#00bfff" class="n m" text-anchor="middle">mm</text>
<text x="880.5" y="47" fill="#ff7f00" class="b m" text-anchor="middle">W</text>
<text x="817.5 822.5 827.5" y="377" fill="#000000" class="n m" text-anchor="middle" font-style="italic">čas</text>
<g transform="translate(73,397) rotate(-90)">
<text x="2.5 7.5 12.5 17.5 22.5" y="0" fill="#000000" class="b s" text-anchor="middle">00:00</text>
</g>
<g transform="translate(88,397) rotate(-90)">
<text x="2.5 7.5 12.5 17.5 22.5" y="0" fill="#000000" class="b s" text-anchor="middle">00:30</text>
</g>
<g transform="translate(103,397) rotate(-90)">
<text x="2.5 7.5 12.5 17.5 22.5" y="0" fill="#000000" class="b s" text-anchor="middle">01:00</text>
</g>
<g transform="translate(119,397) rotate(-90)">
<text x="2.5 7.5 12.5 17.5 22.5" y="0" fill="#000000" class="b s" text-anchor="middle">01:30</text>
</g>
<g transform="translate(134,397) rotate(-90)">
<text x="2.5 7.5 12.5 17.5 22.5" y="0" fill="#000000" class="b s" text-anchor="middle">02:00</text>
</g>
<g transform="translate(150,397) rotate(-90)">
<text x="2.5 7.5 12.5 17.5 22.5" y="0" fill="#000000" class="b s" text-anchor="middle">02:30</text>
</g>
<g transform="translate(165,397) rotate(-90)">
<text x="2.5 7.5 12.5 17.5 22.5" y="0" fill="#000000" class="b s" text-anchor="middle">03:00</text>
</g>
<g transform="translate(180,397) rotate(-90)">
<text x="2.5 7.5 12.5 17.5 22.5" y="0" fill="#000000" class="b s" text-anchor="middle">03:30</text>
</g>
<g transform="translate(196,397) rotate(-90)">
<text x="2.5 7.5 12.5 17.5 22.5" y="0" fill="#000000" class="b s" text-anchor="middle">04:00</text>
</g>
<g transform="translate(211,397) rotate(-90)">
<text x="2.5 7.5 12.5 17.5 22.5" y="0" fill="#000000" class="b s" text-anchor="middle">04:30</text>
</g>
<g transform="translate(227,397) rotate(-90)">
<text x="2.5 7.5 12.5 17.5 22.5" y="0" fill="#000000" class="b s" text-anchor="middle">05:00</text>
</g>
<g transform="translate(242,397) rotate(-90)">
<text x="2.5 7.5 12.5 17.5 22.5" y="0" fill="#000000" class="b s" text-anchor="middle">05:30</text>
</g>
<g transform="translate(258,397) rotate(-90)">
<text x="2.5 7.5 12.5 17.5 22.5" y="0" fill="#000000" class="b s" text-anchor="middle">06:00</text>
</g>
<g transform="translate(273,397) rotate(-90)">
<text x="2.5 7.5 12.5 17.5 22.5" y="0" fill="#000000" class="b s" text-anchor="middle">06:30</text>
</g>
<g transform="translate(288,397) rotate(-90)">
<text x="2.5 7.5 12.5 17.5 22.5" y="0" fill="#000000" class="b s" text-anchor="middle">07:00</text>
</g>
<g transform="translate(304,397) rotate(-90)">
<text x="2.5 7.5 12.5 17.5 22.5" y="0" fill="#000000" class="b s" text-anchor="middle">07:30</text>
</g>
<g transform="translate(319,397) rotate(-90)">
<text x="2.5 7.5 12.5 17.5 22.5" y="0" fill="#000000" class="b s" text-anchor="middle">08:00</text>
</g>
<g transform="translate(335,397) rotate(-90)">
<text x="2.5 7.5 12.5 17.5 22.5" y="0" fill="#000000" class="b s" text-anchor="middle">08:30</text>
</g>
<g transform="translate(350,397) rotate(-90)">
<text x="2.5 7.5 12.5 17.5 22.5" y="0" fill="#000000" class="b s" text-anchor="middle">09:00</text>
</g>
<g transform="translate(365,397) rotate(-90)">
<text x="2.5 7.5 12.5 17.5 22.5" y="0" fill="#000000" class="b s" text-anchor="middle">09:30</text>
</g>
<g transform="translate(381,397) rotate(-90)">
<text x="2.5 7.5 12.5 17.5 22.5" y="0" fill="#000000" class="b s" text-anchor="middle">10:00</text>
</g>
<g transform="translate(396,397) rotate(-90)">
<text x="2.5 7.5 12.5 17.5 22.5" y="0" fill="#000000" class="b s" text-anchor="middle">10:30</text>
</g>
<g transform="translate(412,397) rotate(-90)">
<text x="2.5 7.5 12.5 17.5 22.5" y="0" fill="#000000" class="b s" text-anchor="middle">11:00</text>
</g>
<g transform="translate(427,397) rotate(-90)">
<text x="2.5 7.5 12.5 17.5 22.5" y="0" fill="#000000" class="b s" text-anchor="middle">11:30</text>
</g>
<g transform="translate(443,397) rotate(-90)">
<text x="2.5 7.5 12.5 17.5 22.5" y="0" fill="#000000" class="b s" text-anchor="middle">12:00</text>
</g>
<g transform="translate(458,397) rotate(-90)">
<text x="2.5 7.5 12.5 17.5 22.5" y="0" fill="#000000" class="b s" text-anchor="middle">12:30</text>
</g>
<g transform="translate(473,397) rotate(-90)">
<text x="2.5 7.5 12.5 17.5 22.5" y="0" fill="#000000" class="b s" text-anchor="middle">13:00</text>
</g>
<g transform="translate(489,397) rotate(-90)">
<text x="2.5 7.5 12.5 17.5 22.5" y="0" fill="#000000" class="b s" text-anchor="middle">13:30</text>
</g>
<g transform="translate(504,397) rotate(-90)">
<text x="2.5 7.5 12.5 17.5 22.5" y="0" fill="#000000" class="b s" text-anchor="middle">14:00</text>
</g>
<g transform="translate(520,397) rotate(-90)">
<text x="2.5 7.5 12.5 17.5 22.5" y="0" fill="#000000" class="b s" text-anchor="middle">14:30</text>
</g>
<g transform="translate(535,397) rotate(-90)">
<text x="2.5 7.5 12.5 17.5 22.5" y="0" fill="#000000" class="b s" text-anchor="middle">15:00</text>
</g>
<g transform="translate(551,397) rotate(-90)">
<text x="2.5 7.5 12.5 17.5 22.5" y="0" fill="#000000" class="b s" text-anchor="middle">15:30</text>
</g>
<g transform="translate(566,397) rotate(-90)">
<text x="2.5 7.5 12.5 17.5 22.5" y="0" fill="#000000" class="b s" text-anchor="middle">16:00</text>
</g>
<g transform="translate(581,397) rotate(-90)">
<text x="2.5 7.5 12.5 17.5 22.5" y="0" fill="#000000" class="b s" text-anchor="middle">16:30</text>
</g>
<g transform="translate(597,397) rotate(-90)">
<text x="2.5 7.5 12.5 17.5 22.5" y="0" fill="#000000" class="b s" text-anchor="middle">17:00</text>
</g>
<g transform="translate(612,397) rotate(-90)">
<text x="2.5 7.5 12.5 17.5 22.5" y="0" fill="#000000" class="b s" text-anchor="middle">17:30</text>
</g>
<g transform="translate(628,397) rotate(-90)">
<text x="2.5 7.5 12.5 17.5 22.5" y="0" fill="#000000" class="b s" text-anchor="middle">18:00</text>
</g>
<g transform="translate(643,397) rotate(-90)">
<text x="2.5 7.5 12.5 17.5 22.5" y="0" fill="#000000" class="b s" text-anchor="middle">18:30</text>
</g>
<g transform="translate(658,397) rotate(-90)">
<text x="2.5 7.5 12.5 17.5 22.5" y="0" fill="#000000" class="b s" text-anchor="middle">19:00</text>
</g>
<g transform="translate(674,397) rotate(-90)">
<text x="2.5 7.5 12.5 17.5 22.5" y="0" fill="#000000" class="b s" text-anchor="middle">19:30</text>
</g>
<g transform="translate(689,397) rotate(-90)">
<text x="2.5 7.5 12.5 17.5 22.5" y="0" fill="#000000" class="b s" text-anchor="middle">20:00</text>
</g>
<g transform="translate(705,397) rotate(-90)">
<text x="2.5 7.5 12.5 17.5 22.5" y="0" fill="#000000" class="b s" text-anchor="middle">20:30</text>
</g>
<g transform="translate(720,397) rotate(-90)">
<text x="2.5 7.5 12.5 17.5 22.5" y="0" fill="#000000" class="b s" text-anchor="middle">21:00</text>
</g>
<g transform="translate(736,397) rotate(-90)">
<text x="2.5 7.5 12.5 17.5 22.5" y="0" fill="#000000" class="b s" text-anchor="middle">21:30</text>
</g>
<g transform="translate(751,397) rotate(-90)">
<text x="2.5 7.5 12.5 17.5 22.5" y="0" fill="#000000" class="b s" text-anchor="middle">22:00</text>
</g>
<g transform="translate(766,397) rotate(-90)">
<text x="2.5 7.5 12.5 17.5 22.5" y="0" fill="#000000" class="b s" text-anchor="middle">22:35</text>
</g>
<g transform="translate(782,397) rotate(-90)">
<text x="2.5 7.5 12.5 17.5 22.5" y="0" fill="#000000" class="b s" text-anchor="middle">23:05</text>
</g>
<g transform="translate(797,397) rotate(-90)">
<text x="2.5 7.5 12.5 17.5 22.5" y="0" fill="#000000" class="b s" text-anchor="middle">23:35</text>
</g>
<g shape-rendering="crispEdges">
<rect x="10" y="9" width="11" height="2" fill="#ff0000"/>
<rect x="70" y="9" width="11" height="2" fill="#ff00ff"/>
<rect x="175" y="9" width="11" height="2" fill="#9400d3"/>
<rect x="235" y="9" width="11" height="2" fill="#228b22"/>
<rect x="280" y="9" width="11" height="2" fill="#00bfff"/>
<rect x="335" y="9" width="11" height="2" fill="#000000"/>
<rect x="430" y="9" width="11" height="2" fill="#0000cd"/>
<rect x="510" y="9" width="11" height="2" fill="#696969"/>
<rect x="585" y="9" width="11" height="2" fill="#ffff00"/>
<rect x="650" y="9" width="11" height="2" fill="#ff7f00"/>
</g>
<text x="27.5 32.5 37.5 42.5 47.5 52.5 57.5" y="12.2" fill="#000000" class="b m" text-anchor="middle">Teplota</text>
<text x="87.5 92.5 97.5 102.5 107.5 112.5 117.5 122.5 127.5 132.5 137.5 142.5 147.5 152.5 157.5 162.5" y="12.2" fill="#000000" class="b m" text-anchor="middle">Přízemní teplota</text>
<text x="192.5 197.5 202.5 207.5 212.5 217.5 222.5" y="12.2" fill="#000000" class="b m" text-anchor="middle">Vlhkost</text>
<text x="252.5 257.5 262.5 267.5" y="12.2" fill="#000000" class="b m" text-anchor="middle">Tlak</text>
<text x="297.5 302.5 307.5 312.5 317.5 322.5" y="12.2" fill="#000000" class="b m" text-anchor="middle">Srážky</text>
<text x="352.5 357.5 362.5 367.5 372.5 377.5 382.5 387.5 392.5 397.5 402.5 407.5 412.5 417.5" y="12.2" fill="#000000" class="b m" text-anchor="middle">Rychlost větru</text>
<text x="447.5 452.5 457.5 462.5 467.5 472.5 477.5 482.5 487.5 492.5 497.5" y="12.2" fill="#000000" class="b m" text-anchor="middle">Náraz větru</text>
<text x="527.5 532.5 537.5 542.5 547.5 552.5 557.5 562.5 567.5 572.5" y="12.2" fill="#000000" class="b m" text-anchor="middle">Směr větru</text>
<text x="602.5 607.5 612.5 617.5 622.5 627.5 632.5 637.5" y="12.2" fill="#ffff00" class="n m" text-anchor="middle">UV index</text>
<text x="667.5 672.5 677.5 682.5 687.5" y="12.2" fill="#ff7f00" class="n m" text-anchor="middle">Solar</text>
<text x="82.5 87.5 92.5" y="26.8" fill="#000000" class="b m" text-anchor="middle">max</text>
<text y="26.8" fill="#ff0000" class="b" text-anchor="middle"><tspan class="s" x="102.5 107.5 112.5 117.5">11.6</tspan><tspan class="m" x="122.5 127.5">°C</tspan></text>
<text y="26.8" fill="#ff0000" class="b" text-anchor="middle"><tspan class="s" x="142.5 147.5">98</tspan><tspan class="m" x="152.5">%</tspan></text>
<text y="26.8" fill="#ff0000" class="b" text-anchor="middle"><tspan class="s" x="167.5 172.5 177.5 182.5 187.5 192.5">1008.7</tspan><tspan class="m" x="197.5 202.5 207.5">hPa</tspan></text>
<text y="26.8" fill="#00bfff" class="n" text-anchor="middle"><tspan class="s" x="228.5 233.5 238.5">0.0</tspan><tspan class="m" x="243.5 248.5">mm</tspan></text>
<text x="82.5 87.5 92.5" y="36.8" fill="#000000" class="b m" text-anchor="middle">min</text>
<text y="36.8" fill="#0000cd" class="b" text-anchor="middle"><tspan class="s" x="107.5 112.5 117.5">4.6</tspan><tspan class="m" x="122.5 127.5">°C</tspan></text>
<text y="36.8" fill="#0000cd" class="b" text-anchor="middle"><tspan class="s" x="142.5 147.5">90</tspan><tspan class="m" x="152.5">%</tspan></text>
<text y="36.8" fill="#0000cd" class="b" text-anchor="middle"><tspan class="s" x="167.5 172.5 177.5 182.5 187.5">997.7</tspan><tspan class="m" x="192.5 197.5 202.5">hPa</tspan></text>
<text x="82.5 87.5 92.5" y="46.8" fill="#000000" class="b m" text-anchor="middle">avg</text>
<text y="46.8" fill="#000000" class="b" text-anchor="middle"><tspan class="s" x="107.5 112.5 117.5">8.6</tspan><tspan class="m" x="122.5 127.5">°C</tspan></text>
<text y="26.8" fill="#000000" class="b" text-anchor="middle"><tspan class="m" x="497.5 502.5">WS</tspan><tspan class="s" x="507.5 512.5 517.5 522.5">:1.8</tspan><tspan class="m" x="527.5 532.5 537.5">m/s</tspan></text>
<text y="26.8" fill="#000000" class="b" text-anchor="middle"><tspan class="m" x="567.5 572.5">WG</tspan><tspan class="s" x="577.5 582.5 587.5 592.5">:2.7</tspan><tspan class="m" x="597.5 602.5 607.5">m/s</tspan></text>
<text y="36.8" fill="#000000" class="b" text-anchor="middle"><tspan class="m" x="497.5 502.5 507.5 512.5 517.5 522.5">Východ</tspan><tspan class="s" x="527.5 532.5 537.5 542.5 547.5 552.5">:06:46</tspan></text>
<text y="36.8" fill="#000000" class="b" text-anchor="middle"><tspan class="m" x="567.5 572.5 577.5 582.5 587.5">Západ</tspan><tspan class="s" x="592.5 597.5 602.5 607.5 612.5 617.5">:16:27</tspan></text>
<text x="421 428 435 442 449 456 463 470 477" y="51.5" fill="#000000" class="t s" text-anchor="middle">4.11.2012</text>
<rect x="69" y="87" width="4" height="5" fill="#696969" shape-rendering="crispEdges"/>
<rect x="0.5" y="0.5" width="899" height="399" fill="none" stroke="#000" stroke-width="1" shape-rendering="crispEdges"/>
</svg></body></html>
